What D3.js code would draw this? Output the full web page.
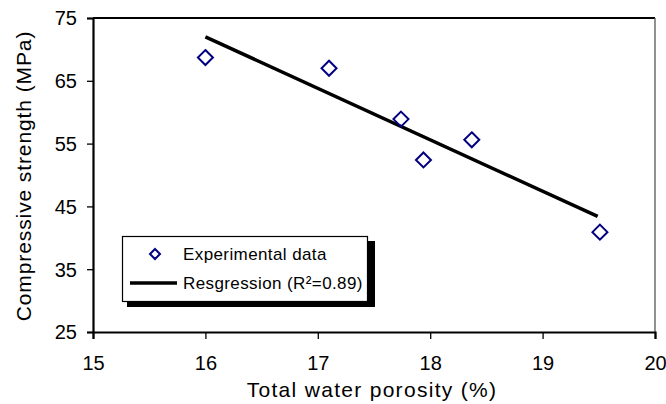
<!DOCTYPE html>
<html><head><meta charset="utf-8">
<script src="https://cdn.jsdelivr.net/npm/d3@7/dist/d3.min.js"></script>
<style>body{margin:0;background:#fff}svg{display:block;font-family:"Liberation Sans",Arial,sans-serif}</style>
</head><body><svg id="c" width="666" height="404"></svg>
<script>
const porosity = [16.0, 17.1, 17.74, 17.94, 18.37, 19.51];
const strength = [68.7, 67.0, 58.9, 52.4, 55.6, 40.9];
const regX = [16.0, 19.49];
const regY = [72.0, 43.4];
const xTicks = [15, 16, 17, 18, 19, 20];
const yTicks = [25, 35, 45, 55, 65, 75];
const legendLabels = ["Experimental data", "Resgression (R\u00b2=0.89)"];

const svg = d3.select("#c");
const L = 93, R = 655, T = 18, B = 332;
const x = d3.scaleLinear().domain([15, 20]).range([L, R]);
const y = d3.scaleLinear().domain([25, 75]).range([B, T]);

// frame: top thick, right thin gray
svg.append("line").attr("x1", L).attr("x2", R).attr("y1", T).attr("y2", T).attr("stroke", "#000").attr("stroke-width", 2);
svg.append("line").attr("x1", R).attr("x2", R).attr("y1", T).attr("y2", B).attr("stroke", "#555").attr("stroke-width", 1.3);

const xAxis = svg.append("g").attr("transform", `translate(0,${B})`)
  .call(d3.axisBottom(x).tickValues(xTicks).tickSize(7).tickPadding(17).tickFormat(d3.format("d")));
const yAxis = svg.append("g").attr("transform", `translate(${L},0)`)
  .call(d3.axisLeft(y).tickValues(yTicks).tickSize(6).tickPadding(10).tickFormat(d3.format("d")));
[xAxis, yAxis].forEach(g => {
  g.select(".domain").attr("stroke", "#000").attr("stroke-width", 2.2);
  g.selectAll(".tick line").attr("stroke", "#000").attr("stroke-width", 1.3);
  g.selectAll(".tick text").attr("font-size", 20).attr("fill", "#000").attr("font-family", '"Liberation Sans",Arial,sans-serif');
});
yAxis.selectAll(".tick text").attr("dy", "0.34em");

// regression line
svg.append("line")
  .attr("x1", x(regX[0])).attr("y1", y(regY[0]))
  .attr("x2", x(regX[1])).attr("y2", y(regY[1]))
  .attr("stroke", "#000").attr("stroke-width", 3.5);

// points
const diamond = s => `M0,${-s}L${s},0L0,${s}L${-s},0Z`;
svg.selectAll("path.pt").data(porosity.map((p, i) => [p, strength[i]])).enter()
  .append("path").attr("class", "pt")
  .attr("d", diamond(7.5))
  .attr("transform", d => `translate(${x(d[0])},${y(d[1])})`)
  .attr("fill", "none").attr("stroke", "#000080").attr("stroke-width", 2);

// legend
const lg = svg.append("g");
lg.append("rect").attr("x", 127).attr("y", 241).attr("width", 248).attr("height", 66).attr("fill", "#000");
lg.append("rect").attr("x", 122.5).attr("y", 236.5).attr("width", 245).attr("height", 65).attr("fill", "#fff").attr("stroke", "#000").attr("stroke-width", 1.2);
lg.append("path").attr("d", diamond(5)).attr("transform", "translate(155,254)")
  .attr("fill", "none").attr("stroke", "#000080").attr("stroke-width", 2);
lg.append("line").attr("x1", 130).attr("x2", 177).attr("y1", 283).attr("y2", 283).attr("stroke", "#000").attr("stroke-width", 3.5);
lg.selectAll("text").data(legendLabels).enter().append("text")
  .attr("x", 183).attr("y", (d, i) => 254 + i * 29).attr("dy", "0.36em")
  .attr("font-size", 17).attr("letter-spacing", 0.4).attr("fill", "#000").text(d => d);

// axis titles
svg.append("text").attr("x", 372).attr("y", 397).attr("text-anchor", "middle")
  .attr("font-size", 21).attr("letter-spacing", 1.3).attr("fill", "#000").text("Total water porosity (%)");
svg.append("text").attr("transform", `translate(31,176) rotate(-90)`).attr("text-anchor", "middle")
  .attr("font-size", 21).attr("letter-spacing", 0.9).attr("fill", "#000").text("Compressive strength (MPa)");
</script></body></html>
